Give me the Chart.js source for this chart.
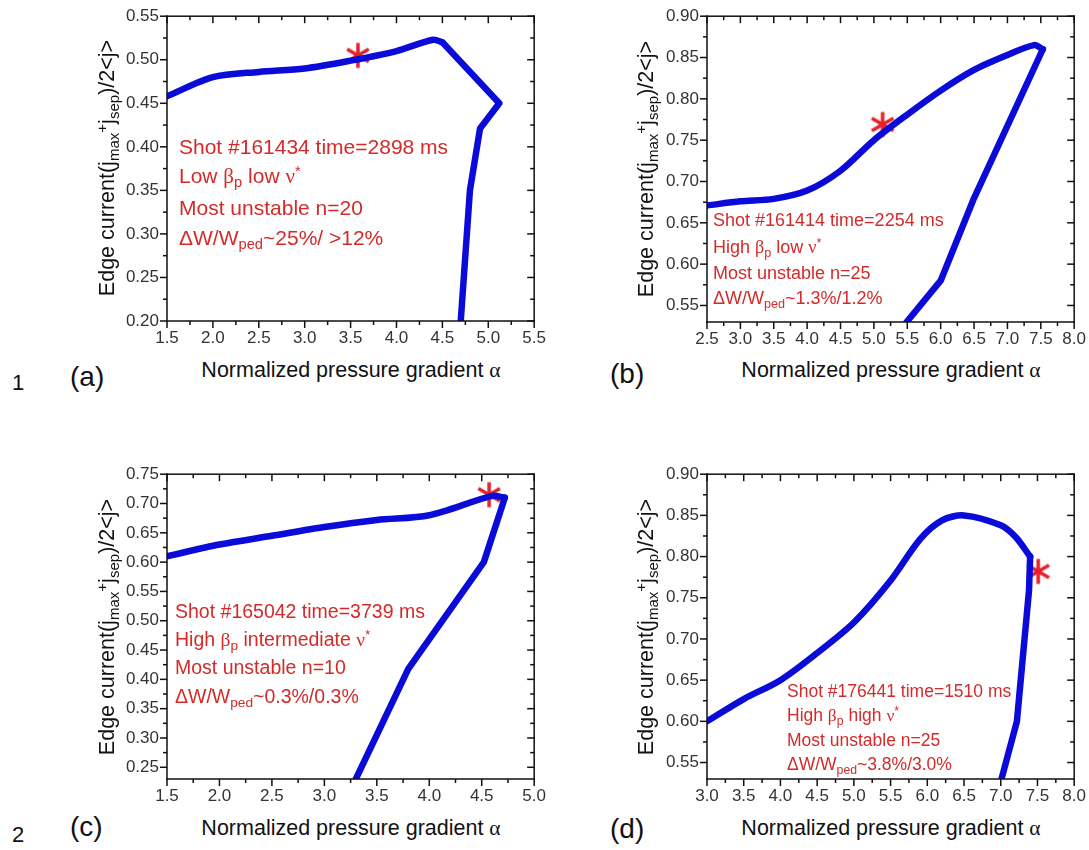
<!DOCTYPE html>
<html>
<head>
<meta charset="utf-8">
<script src="https://cdn.jsdelivr.net/npm/chart.js@4.4.1/dist/chart.umd.min.js"></script>
<style>
  body { margin: 0; background: #fff; width: 1089px; height: 850px; position: relative; overflow: hidden;
         font-family: "Liberation Sans", Arial, sans-serif; }
  canvas { position: absolute; }
  .t { position: absolute; white-space: nowrap; line-height: 1; transform: translateY(-50%); }
  .ann { color: #d42a2a; }
  .g { font-family: "Liberation Serif", "DejaVu Serif", serif; }
  sub { font-size: 0.7em; vertical-align: -0.3em; line-height: 0; }
  sup { font-size: 0.7em; vertical-align: 0.5em; line-height: 0; }
  .xt { position: absolute; white-space: nowrap; line-height: 1; font-size: 21.5px; color: #111;
        transform: translate(-50%, -50%); }
  .yt { position: absolute; white-space: nowrap; line-height: 1; font-size: 21.5px; color: #111;
        transform: translate(-50%, -50%) rotate(-90deg); }
  .pl { position: absolute; font-size: 28px; color: #111; line-height: 1; transform: translateY(-50%); }
  .num { position: absolute; font-size: 22px; color: #111; line-height: 1; transform: translateY(-50%); }
</style>
</head>
<body>
<canvas id="cA" width="456" height="353" style="left:97px;top:-2px"></canvas>
<canvas id="cB" width="456" height="354" style="left:637px;top:-2px"></canvas>
<canvas id="cC" width="456" height="353" style="left:97px;top:456px"></canvas>
<canvas id="cD" width="456" height="353" style="left:637px;top:456px"></canvas>

<!-- row numbers and panel letters -->
<div class="num" style="left:12px;top:383px">1</div>
<div class="num" style="left:12px;top:835px">2</div>
<div class="pl" style="left:70px;top:377px">(a)</div>
<div class="pl" style="left:610px;top:374px">(b)</div>
<div class="pl" style="left:70px;top:827px">(c)</div>
<div class="pl" style="left:610px;top:829px">(d)</div>

<!-- axis titles -->
<div class="xt" style="left:351px;top:371px">Normalized pressure gradient <span class="g">α</span></div>
<div class="xt" style="left:891px;top:371px">Normalized pressure gradient <span class="g">α</span></div>
<div class="xt" style="left:351px;top:829px">Normalized pressure gradient <span class="g">α</span></div>
<div class="xt" style="left:891px;top:829px">Normalized pressure gradient <span class="g">α</span></div>
<div class="yt" style="left:108px;top:168px">Edge current(j<sub>max</sub><sup>+</sup>j<sub>sep</sub>)/2&lt;j&gt;</div>
<div class="yt" style="left:647px;top:169px">Edge current(j<sub>max</sub><sup>+</sup>j<sub>sep</sub>)/2&lt;j&gt;</div>
<div class="yt" style="left:108px;top:627px">Edge current(j<sub>max</sub><sup>+</sup>j<sub>sep</sub>)/2&lt;j&gt;</div>
<div class="yt" style="left:647px;top:627px">Edge current(j<sub>max</sub><sup>+</sup>j<sub>sep</sub>)/2&lt;j&gt;</div>

<!-- annotations -->
<div class="t ann" style="left:179px;top:146px;font-size:21px">Shot #161434 time=2898 ms</div>
<div class="t ann" style="left:179px;top:176px;font-size:21px">Low <span class="g">β</span><sub>p</sub> low <span class="g">ν</span><sup>*</sup></div>
<div class="t ann" style="left:179px;top:207px;font-size:21px">Most unstable n=20</div>
<div class="t ann" style="left:179px;top:237px;font-size:21px">ΔW/W<sub>ped</sub>~25%/ &gt;12%</div>

<div class="t ann" style="left:713px;top:220px;font-size:18px">Shot #161414 time=2254 ms</div>
<div class="t ann" style="left:713px;top:247px;font-size:18px">High <span class="g">β</span><sub>p</sub> low <span class="g">ν</span><sup>*</sup></div>
<div class="t ann" style="left:713px;top:273px;font-size:18px">Most unstable n=25</div>
<div class="t ann" style="left:713px;top:298px;font-size:18px">ΔW/W<sub>ped</sub>~1.3%/1.2%</div>

<div class="t ann" style="left:175px;top:612px;font-size:19.5px">Shot #165042 time=3739 ms</div>
<div class="t ann" style="left:175px;top:640px;font-size:19.5px">High <span class="g">β</span><sub>p</sub> intermediate <span class="g">ν</span><sup>*</sup></div>
<div class="t ann" style="left:175px;top:668px;font-size:19.5px">Most unstable n=10</div>
<div class="t ann" style="left:175px;top:697px;font-size:19.5px">ΔW/W<sub>ped</sub>~0.3%/0.3%</div>

<div class="t ann" style="left:787px;top:692px;font-size:17.5px">Shot #176441 time=1510 ms</div>
<div class="t ann" style="left:787px;top:716px;font-size:17.5px">High <span class="g">β</span><sub>p</sub> high <span class="g">ν</span><sup>*</sup></div>
<div class="t ann" style="left:787px;top:741px;font-size:17.5px">Most unstable n=25</div>
<div class="t ann" style="left:787px;top:765px;font-size:17.5px">ΔW/W<sub>ped</sub>~3.8%/3.0%</div>

<script>
// ---- panel (a) shot 161434 ----
const aUpperX = [1.5, 2.0, 2.5, 3.0, 3.5, 4.0, 4.4, 4.5];
const aUpperY = [0.458, 0.480, 0.486, 0.490, 0.499, 0.510, 0.523, 0.520];
const aLowerX = [4.5, 5.12, 4.91, 4.80, 4.70];
const aLowerY = [0.520, 0.450, 0.421, 0.350, 0.200];
const aStar = [3.58, 0.505];
const aXTicks = [1.5, 2.0, 2.5, 3.0, 3.5, 4.0, 4.5, 5.0, 5.5];
const aYTicks = [0.20, 0.25, 0.30, 0.35, 0.40, 0.45, 0.50, 0.55];

// ---- panel (b) shot 161414 ----
const bUpperX = [2.5, 3.0, 3.5, 4.0, 4.5, 5.0, 5.5, 6.0, 6.5, 7.0, 7.4, 7.53];
const bUpperY = [0.671, 0.676, 0.679, 0.689, 0.713, 0.750, 0.781, 0.810, 0.835, 0.853, 0.865, 0.860];
const bLowerX = [7.53, 6.5, 6.0, 5.49];
const bLowerY = [0.860, 0.680, 0.580, 0.530];
const bStar = [5.13, 0.769];
const bXTicks = [2.5, 3.0, 3.5, 4.0, 4.5, 5.0, 5.5, 6.0, 6.5, 7.0, 7.5, 8.0];
const bYTicks = [0.55, 0.60, 0.65, 0.70, 0.75, 0.80, 0.85, 0.90];

// ---- panel (c) shot 165042 ----
const cUpperX = [1.5, 2.0, 2.5, 3.0, 3.5, 4.0, 4.6, 4.72];
const cUpperY = [0.610, 0.630, 0.645, 0.660, 0.672, 0.680, 0.713, 0.710];
const cLowerX = [4.72, 4.52, 3.80, 3.30];
const cLowerY = [0.710, 0.600, 0.418, 0.230];
const cStar = [4.57, 0.715];
const cXTicks = [1.5, 2.0, 2.5, 3.0, 3.5, 4.0, 4.5, 5.0];
const cYTicks = [0.25, 0.30, 0.35, 0.40, 0.45, 0.50, 0.55, 0.60, 0.65, 0.70, 0.75];

// ---- panel (d) shot 176441 ----
const dUpperX = [3.0, 3.5, 4.0, 4.5, 5.0, 5.5, 5.9, 6.2, 6.5, 7.0, 7.2, 7.4];
const dUpperY = [0.600, 0.627, 0.650, 0.683, 0.720, 0.771, 0.821, 0.844, 0.850, 0.838, 0.824, 0.800];
const dLowerX = [7.4, 7.385, 7.22, 7.01];
const dLowerY = [0.800, 0.759, 0.600, 0.530];
const dStar = [7.51, 0.782];
const dXTicks = [3.0, 3.5, 4.0, 4.5, 5.0, 5.5, 6.0, 6.5, 7.0, 7.5, 8.0];
const dYTicks = [0.55, 0.60, 0.65, 0.70, 0.75, 0.80, 0.85, 0.90];

const BLUE = '#0b0bd9';
const STAR_RED = '#e8202a';

function pts(xs, ys) {
  return xs.map((x, i) => ({ x: x, y: ys[i] }));
}

// red six-armed asterisk used as the marker image
function makeStar() {
  const c = document.createElement('canvas');
  c.width = 30; c.height = 30;
  const g = c.getContext('2d');
  g.strokeStyle = STAR_RED;
  g.lineWidth = 3.5;
  g.translate(15, 15);
  [90, 30, 150].forEach(function (deg) {
    const r = deg * Math.PI / 180;
    g.beginPath();
    g.moveTo(-12.5 * Math.cos(r), -12.5 * Math.sin(r));
    g.lineTo(12.5 * Math.cos(r), 12.5 * Math.sin(r));
    g.stroke();
  });
  return c;
}
const starImg = makeStar();

// major + minor values for one axis (minor = halfway between majors)
function tickSet(scale) {
  const vals = scale.ticks.map(t => t.value);
  const step = vals[1] - vals[0];
  const out = vals.map(v => [v, true]);
  for (let i = 0; i < vals.length - 1; i++) out.push([(vals[i] + vals[i + 1]) / 2, false]);
  if (vals[0] - step / 2 >= scale.min - 1e-9) out.push([vals[0] - step / 2, false]);
  const last = vals[vals.length - 1];
  if (last + step / 2 <= scale.max + 1e-9) out.push([last + step / 2, false]);
  return out;
}

// box around the plot, ticks out on left/bottom and in on top/right
const frameTicks = {
  id: 'frameTicks',
  afterDraw(chart) {
    const ctx = chart.ctx;
    const a = chart.chartArea;
    const x = chart.scales.x, y = chart.scales.y;
    const w = 1.5;
    ctx.save();
    ctx.fillStyle = '#111';
    // frame
    ctx.fillRect(a.left - w / 2, a.top - w / 2, a.right - a.left + w, w);
    ctx.fillRect(a.left - w / 2, a.bottom - w / 2, a.right - a.left + w, w);
    ctx.fillRect(a.left - w / 2, a.top - w / 2, w, a.bottom - a.top + w);
    ctx.fillRect(a.right - w / 2, a.top - w / 2, w, a.bottom - a.top + w);
    // ticks
    tickSet(x).forEach(function (t) {
      const px = x.getPixelForValue(t[0]);
      const len = t[1] ? 7 : 4;
      ctx.fillRect(px - w / 2, a.bottom, w, len);
      ctx.fillRect(px - w / 2, a.top, w, len);
    });
    tickSet(y).forEach(function (t) {
      const py = y.getPixelForValue(t[0]);
      const len = t[1] ? 7 : 4;
      ctx.fillRect(a.left - len, py - w / 2, len, w);
      ctx.fillRect(a.right - len, py - w / 2, len, w);
    });
    ctx.restore();
  }
};

function makePanel(id, upper, lower, star, xTicks, yTicks, yMin) {
  new Chart(document.getElementById(id), {
    type: 'line',
    data: {
      datasets: [
        { data: upper, borderColor: BLUE, borderWidth: 6.5, tension: 0.3, pointRadius: 0,
          borderCapStyle: 'round', borderJoinStyle: 'round', clip: 0 },
        { data: lower, borderColor: BLUE, borderWidth: 6.5, tension: 0, pointRadius: 0,
          borderCapStyle: 'round', borderJoinStyle: 'round', clip: 0 },
        { data: [{ x: star[0], y: star[1] }], showLine: false, pointStyle: starImg,
          pointRadius: 15, clip: false }
      ]
    },
    options: {
      responsive: false,
      animation: false,
      layout: { padding: { left: 0, top: 10, right: 12, bottom: 0 } },
      plugins: { legend: { display: false }, tooltip: { enabled: false } },
      scales: {
        x: {
          type: 'linear',
          min: xTicks[0], max: xTicks[xTicks.length - 1],
          afterBuildTicks: s => { s.ticks = xTicks.map(v => ({ value: v })); },
          afterFit: s => { s.height = 30; },
          grid: { display: false, drawTicks: false },
          border: { display: false },
          ticks: { padding: 7, color: '#333', font: { family: 'Liberation Sans', size: 17 },
                   callback: v => Number(v).toFixed(1) }
        },
        y: {
          type: 'linear',
          min: yMin, max: yTicks[yTicks.length - 1],
          afterBuildTicks: s => { s.ticks = yTicks.map(v => ({ value: v })); },
          afterFit: s => { s.width = 70; },
          grid: { display: false, drawTicks: false },
          border: { display: false },
          ticks: { padding: 8, color: '#333', font: { family: 'Liberation Sans', size: 17 },
                   callback: v => Number(v).toFixed(2) }
        }
      }
    },
    plugins: [frameTicks]
  });
}

makePanel('cA', pts(aUpperX, aUpperY), pts(aLowerX, aLowerY), aStar, aXTicks, aYTicks, 0.20);
makePanel('cB', pts(bUpperX, bUpperY), pts(bLowerX, bLowerY), bStar, bXTicks, bYTicks, 0.53);
makePanel('cC', pts(cUpperX, cUpperY), pts(cLowerX, cLowerY), cStar, cXTicks, cYTicks, 0.23);
makePanel('cD', pts(dUpperX, dUpperY), pts(dLowerX, dLowerY), dStar, dXTicks, dYTicks, 0.53);
</script>
</body>
</html>
